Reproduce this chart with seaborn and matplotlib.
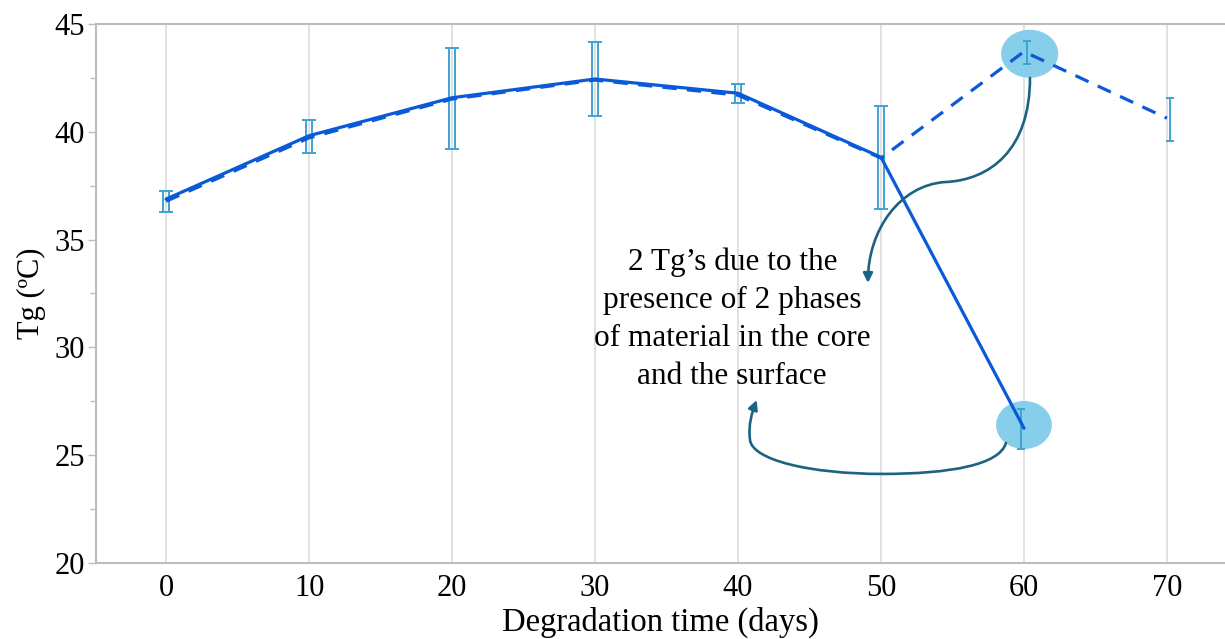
import numpy as np
import pandas as pd
import matplotlib
matplotlib.use('Agg')
import matplotlib.pyplot as plt
from matplotlib.patches import Ellipse, FancyArrowPatch
from matplotlib.path import Path
from matplotlib.ticker import MultipleLocator
import seaborn as sns

# ── Data ──────────────────────────────────────────────────────
DAYS_CORE    = [0, 10, 20, 30, 40, 50, 60]
TG_CORE      = [36.88, 39.82, 41.58, 42.45, 41.79, 38.82, 26.25]
LOW_CORE     = [36.30, 39.00, 39.20, 40.73, 41.34, 36.40, 25.29]
HIGH_CORE    = [37.27, 40.55, 43.90, 44.15, 42.23, 41.20, 27.13]

DAYS_SURF    = [0, 10, 20, 30, 40, 50, 60, 70]
TG_SURF      = [36.78, 39.72, 41.52, 42.40, 41.70, 38.78, 43.72, 40.63]
LOW_SURF     = [36.30, 39.00, 39.20, 40.73, 41.34, 36.40, 43.13, 39.57]
HIGH_SURF    = [37.27, 40.55, 43.90, 44.15, 42.23, 41.20, 44.23, 41.58]

X_TICKS = [0, 10, 20, 30, 40, 50, 60, 70]
Y_TICKS = [20, 25, 30, 35, 40, 45]

NOTE = "2 Tg\u2019s due to the\npresence of 2 phases\nof material in the core\nand the surface"

LINE_C  = '#0a5ad8'
ERR_C   = '#3fa3d3'
BLOB_C  = '#87ceea'
ARROW_C = '#1c6283'

sns.set_theme(style='white')
plt.rcParams['font.family'] = ['Liberation Serif', 'DejaVu Serif']
plt.rcParams['text.color'] = 'black'
plt.rcParams['axes.labelcolor'] = 'black'
plt.rcParams['xtick.labelcolor'] = 'black'
plt.rcParams['ytick.labelcolor'] = 'black'

df = pd.concat([
    pd.DataFrame({'day': DAYS_CORE, 'tg': TG_CORE, 'phase': 'core'}),
    pd.DataFrame({'day': DAYS_SURF, 'tg': TG_SURF, 'phase': 'surface'}),
])

fig = plt.figure(figsize=(12.25, 6.39), dpi=100)
ax = fig.add_axes([0.0784, 0.119, 0.9216, 0.8434])

# vertical grid only
for xt in X_TICKS:
    ax.axvline(xt, color='#dcdcdc', lw=1.2, zorder=0)

# highlight blobs around the day-60 points
ax.add_patch(Ellipse((DAYS_SURF[6] + 0.4, TG_SURF[6] - 0.1), 4.0, 2.23,
                     facecolor=BLOB_C, edgecolor='none', zorder=1))
ax.add_patch(Ellipse((DAYS_CORE[6], TG_CORE[6] + 0.15), 3.9, 2.23,
                     facecolor=BLOB_C, edgecolor='none', zorder=1))

# error bars (slightly offset per series)
for xs, ys, lo, hi, dx in [(DAYS_CORE, TG_CORE, LOW_CORE, HIGH_CORE, -0.22),
                           (DAYS_SURF, TG_SURF, LOW_SURF, HIGH_SURF, 0.22)]:
    ys = np.array(ys)
    yerr = [ys - np.array(lo), np.array(hi) - ys]
    ax.errorbar(np.array(xs) + dx, ys, yerr=yerr, fmt='none',
                ecolor=ERR_C, elinewidth=1.4, capsize=2.6, capthick=1.4, zorder=2)

sns.lineplot(data=df, x='day', y='tg', style='phase',
             dashes={'core': '', 'surface': (4.5, 3.2)},
             color=LINE_C, linewidth=2.3, legend=False, ax=ax, zorder=3)

# annotation text
ax.text(39.6, 31.3, NOTE, ha='center', va='center', fontsize=22.5,
        linespacing=1.42, color='black', zorder=4)

# curved arrows
p1 = Path([(60.42, 42.50), (60.42, 39.16), (57.62, 37.76), (54.48, 37.67),
           (51.33, 37.53), (49.09, 35.45), (49.09, 32.99)],
          [Path.MOVETO, Path.CURVE4, Path.CURVE4, Path.CURVE4,
           Path.CURVE4, Path.CURVE4, Path.CURVE4])
p2 = Path([(58.74, 25.57), (58.32, 24.55), (54.83, 24.13), (50.07, 24.13),
           (45.03, 24.13), (40.98, 24.78), (40.84, 25.71),
           (40.70, 26.40), (40.98, 27.00), (41.31, 27.56)],
          [Path.MOVETO, Path.CURVE4, Path.CURVE4, Path.CURVE4,
           Path.CURVE4, Path.CURVE4, Path.CURVE4,
           Path.CURVE4, Path.CURVE4, Path.CURVE4])
for p in (p1, p2):
    ax.add_patch(FancyArrowPatch(path=p, arrowstyle='-|>', mutation_scale=14,
                                 color=ARROW_C, lw=1.9, zorder=4))

# axes styling
ax.set_xlim(-4.9, 74.06)
ax.set_ylim(20, 45)
ax.set_xticks(X_TICKS)
ax.set_yticks(Y_TICKS)
ax.yaxis.set_minor_locator(MultipleLocator(2.5))
ax.tick_params(axis='x', length=0, labelsize=22, pad=8)
ax.tick_params(axis='y', which='major', length=6, width=1, color='#bdbdbd',
               labelsize=22, pad=2, left=True)
ax.tick_params(axis='y', which='minor', length=4, width=1, color='#bdbdbd', left=True)
ax.set_xlabel('Degradation time (days)', fontsize=23.5, labelpad=3)
ax.set_ylabel('Tg (ºC)', fontsize=22, labelpad=6)

for side in ('left', 'bottom', 'top'):
    ax.spines[side].set_color('#bdbdbd')
    ax.spines[side].set_linewidth(1.5)
ax.spines['right'].set_visible(False)

fig.savefig('out.png', dpi=100)
